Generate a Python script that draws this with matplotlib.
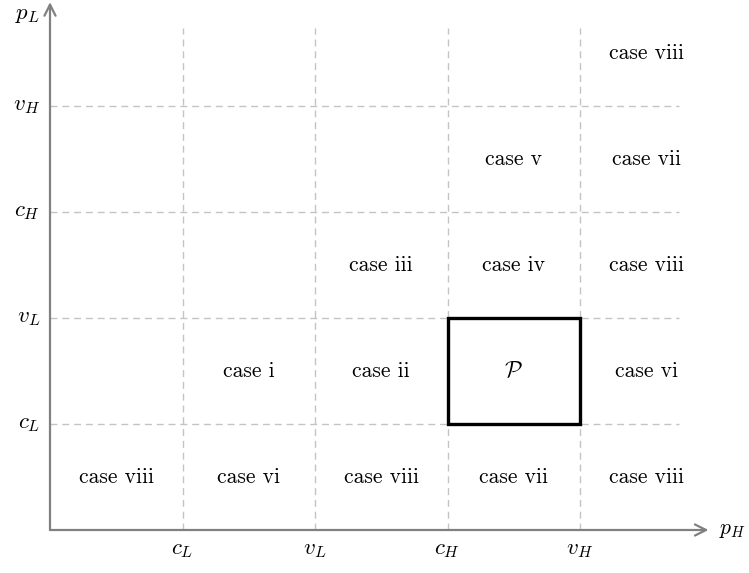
import matplotlib
matplotlib.use("Agg")
import matplotlib.pyplot as plt
from matplotlib.patches import Rectangle

plt.rcParams['mathtext.fontset'] = 'cm'
plt.rcParams['font.family'] = 'cmr10'
plt.rcParams['axes.formatter.use_mathtext'] = True

# thresholds on both axes
x_ticks = [1, 2, 3, 4]
x_labels = [r'$c_L$', r'$v_L$', r'$c_H$', r'$v_H$']
y_ticks = [1, 2, 3, 4]
y_labels = [r'$c_L$', r'$v_L$', r'$c_H$', r'$v_H$']

# region labels: (x centre, y centre, text)
case_x = [0.5, 1.5, 2.5, 3.5, 4.5,
          1.5, 2.5, 4.5,
          2.5, 3.5, 4.5,
          3.5, 4.5,
          4.5]
case_y = [0.5, 0.5, 0.5, 0.5, 0.5,
          1.5, 1.5, 1.5,
          2.5, 2.5, 2.5,
          3.5, 3.5,
          4.5]
case_text = ['case viii', 'case vi', 'case viii', 'case vii', 'case viii',
             'case i', 'case ii', 'case vi',
             'case iii', 'case iv', 'case viii',
             'case v', 'case vii',
             'case viii']

# the set P
p_box = (3, 1, 1, 1)

W, H = 749, 573
fig = plt.figure(figsize=(W / 100, H / 100), dpi=100)
ux, uy = 132.5, 106.0
ax = fig.add_axes([50 / W, (H - 530) / H, 5 * ux / W, 5 * uy / H])
ax.set_xlim(0, 5)
ax.set_ylim(0, 5)
ax.axis('off')

grid_kw = dict(color='#c4c4c4', lw=1.0, ls=(0, (5, 3.5)), zorder=1)
for x in x_ticks:
    ax.plot([x, x], [0, 4.74], **grid_kw)
for y in y_ticks:
    ax.plot([0, 4.75], [y, y], **grid_kw)

axis_col = '#808080'
ax.annotate('', xy=(4.97, 0), xytext=(0, 0),
            arrowprops=dict(arrowstyle='->', color=axis_col, lw=1.6,
                            mutation_scale=20, shrinkA=0, shrinkB=0),
            annotation_clip=False)
ax.annotate('', xy=(0, 4.98), xytext=(0, 0),
            arrowprops=dict(arrowstyle='->', color=axis_col, lw=1.6,
                            mutation_scale=20, shrinkA=0, shrinkB=0),
            annotation_clip=False)

fs = 15.5
mfs = 16.5
for x, lab in zip(x_ticks, x_labels):
    ax.text(x, -0.1, lab, ha='center', va='top', fontsize=mfs)
for y, lab in zip(y_ticks, y_labels):
    ax.text(-0.075, y, lab, ha='right', va='center', fontsize=mfs)
ax.text(5.05, 0, r'$p_H$', ha='left', va='center', fontsize=mfs - 1)
ax.text(-0.075, 4.86, r'$p_L$', ha='right', va='center', fontsize=mfs)

for x, y, t in zip(case_x, case_y, case_text):
    ax.text(x, y, t, ha='center', va='center', fontsize=fs)

ax.add_patch(Rectangle(p_box[:2], p_box[2], p_box[3], fill=False,
                       ec='black', lw=2.4, zorder=3))
ax.text(p_box[0] + p_box[2] / 2, p_box[1] + p_box[3] / 2, r'$\mathcal{P}$',
        ha='center', va='center', fontsize=mfs)

fig.savefig('out.png', dpi=100)
